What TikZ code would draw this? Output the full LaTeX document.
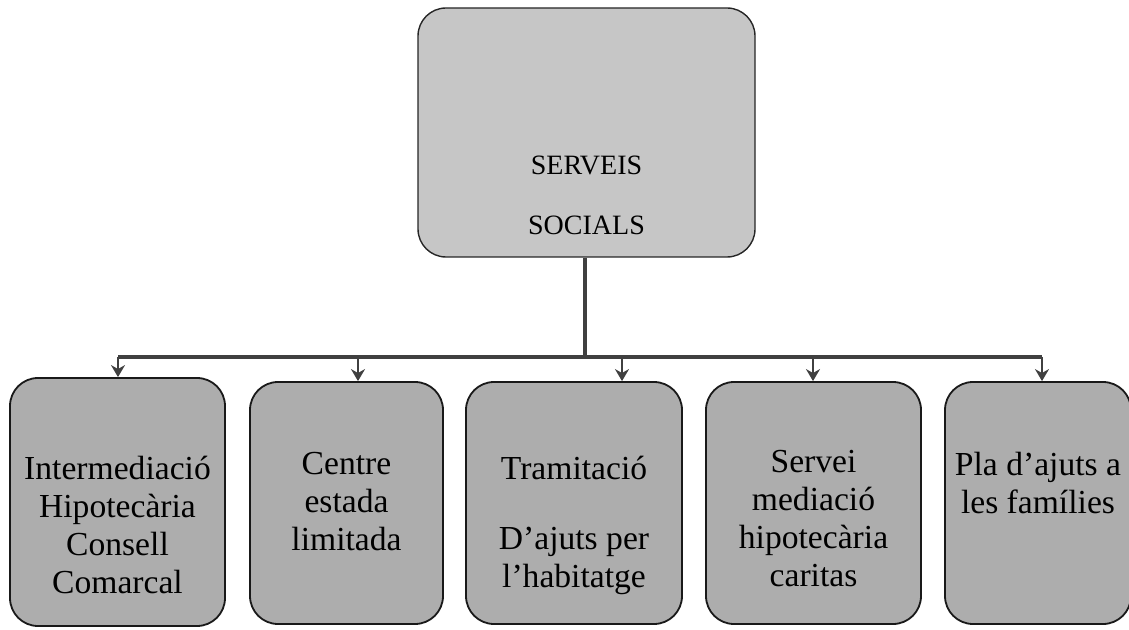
\documentclass[tikz,border=0pt]{standalone}
\usepackage{fontspec}
\setmainfont{Liberation Serif}
\usepackage{tikz}
\usetikzlibrary{positioning, arrows.meta}
\tikzset{topbox/.style={rounded corners=14pt, draw=black!85, line width=0.7pt, fill=gray!45}}
\tikzset{subbox/.style={rounded corners=14pt, draw=black!90, line width=0.9pt, fill=gray!64}}
\tikzset{lbl/.style={anchor=north, align=center, font=\fontsize{16.8}{19}\selectfont, inner sep=0pt}}
\tikzset{bus/.style={draw=gray!50!black, line width=2.2pt}}
\tikzset{arr/.style={draw=gray!50!black, line width=1.4pt, -{Stealth[length=6pt,width=7pt]}}}

\begin{document}
\begin{tikzpicture}[x=0.5pt, y=-0.5pt]
    \useasboundingbox (0,0) rectangle (1129,630);
    % head
    \node[topbox, minimum width=168.5pt, minimum height=124.5pt] (SS) at (586.5,132.5) {};
    \node[lbl, font=\fontsize{14}{30}\selectfont] (SSt) at (586.5,156) {SERVEIS\\SOCIALS};
    % children
    \node[subbox, minimum width=107.5pt, minimum height=124pt] (IH) at (117.5,502) {};
    \node[subbox, minimum width=96.5pt, minimum height=121pt] (CE) at (346.5,503) {};
    \node[subbox, minimum width=108pt, minimum height=121pt] (TA) at (574,503) {};
    \node[subbox, minimum width=107.5pt, minimum height=121pt] (SM) at (813.5,503) {};
    \node[subbox, minimum width=93pt, minimum height=121pt] (PA) at (1038,503) {};
    \node[lbl] (IHt) at (IH.center |- 0,456) {Intermediació\\Hipotecària\\Consell\\Comarcal};
    \node[lbl] (CEt) at (CE.center |- 0,452) {Centre\\estada\\limitada};
    \node[lbl] (TAt) at (TA.center |- 0,456) {Tramitació\\[16pt] D’ajuts per\\l’habitatge};
    \node[lbl] (SMt) at (SM.center |- 0,450) {Servei\\mediació\\hipotecària\\caritas};
    \node[lbl] (PAt) at (PA.center |- 0,452) {Pla d’ajuts a\\les famílies};
    % connectors
    \coordinate (hub) at (585,357);
    \coordinate (t1) at (118,357);
    \coordinate (t2) at (358,357);
    \coordinate (t3) at (622,357);
    \coordinate (t4) at (813,357);
    \coordinate (t5) at (1042,357);
    \draw[bus] (SS.south -| hub) -- (hub);
    \draw[bus] (t1) -- (t5);
    \draw[arr] (t1) -- (t1 |- IH.north);
    \draw[arr] (t2) -- (t2 |- CE.north);
    \draw[arr] (t3) -- (t3 |- TA.north);
    \draw[arr] (t4) -- (t4 |- SM.north);
    \draw[arr] (t5) -- (t5 |- PA.north);
\end{tikzpicture}
\end{document}
